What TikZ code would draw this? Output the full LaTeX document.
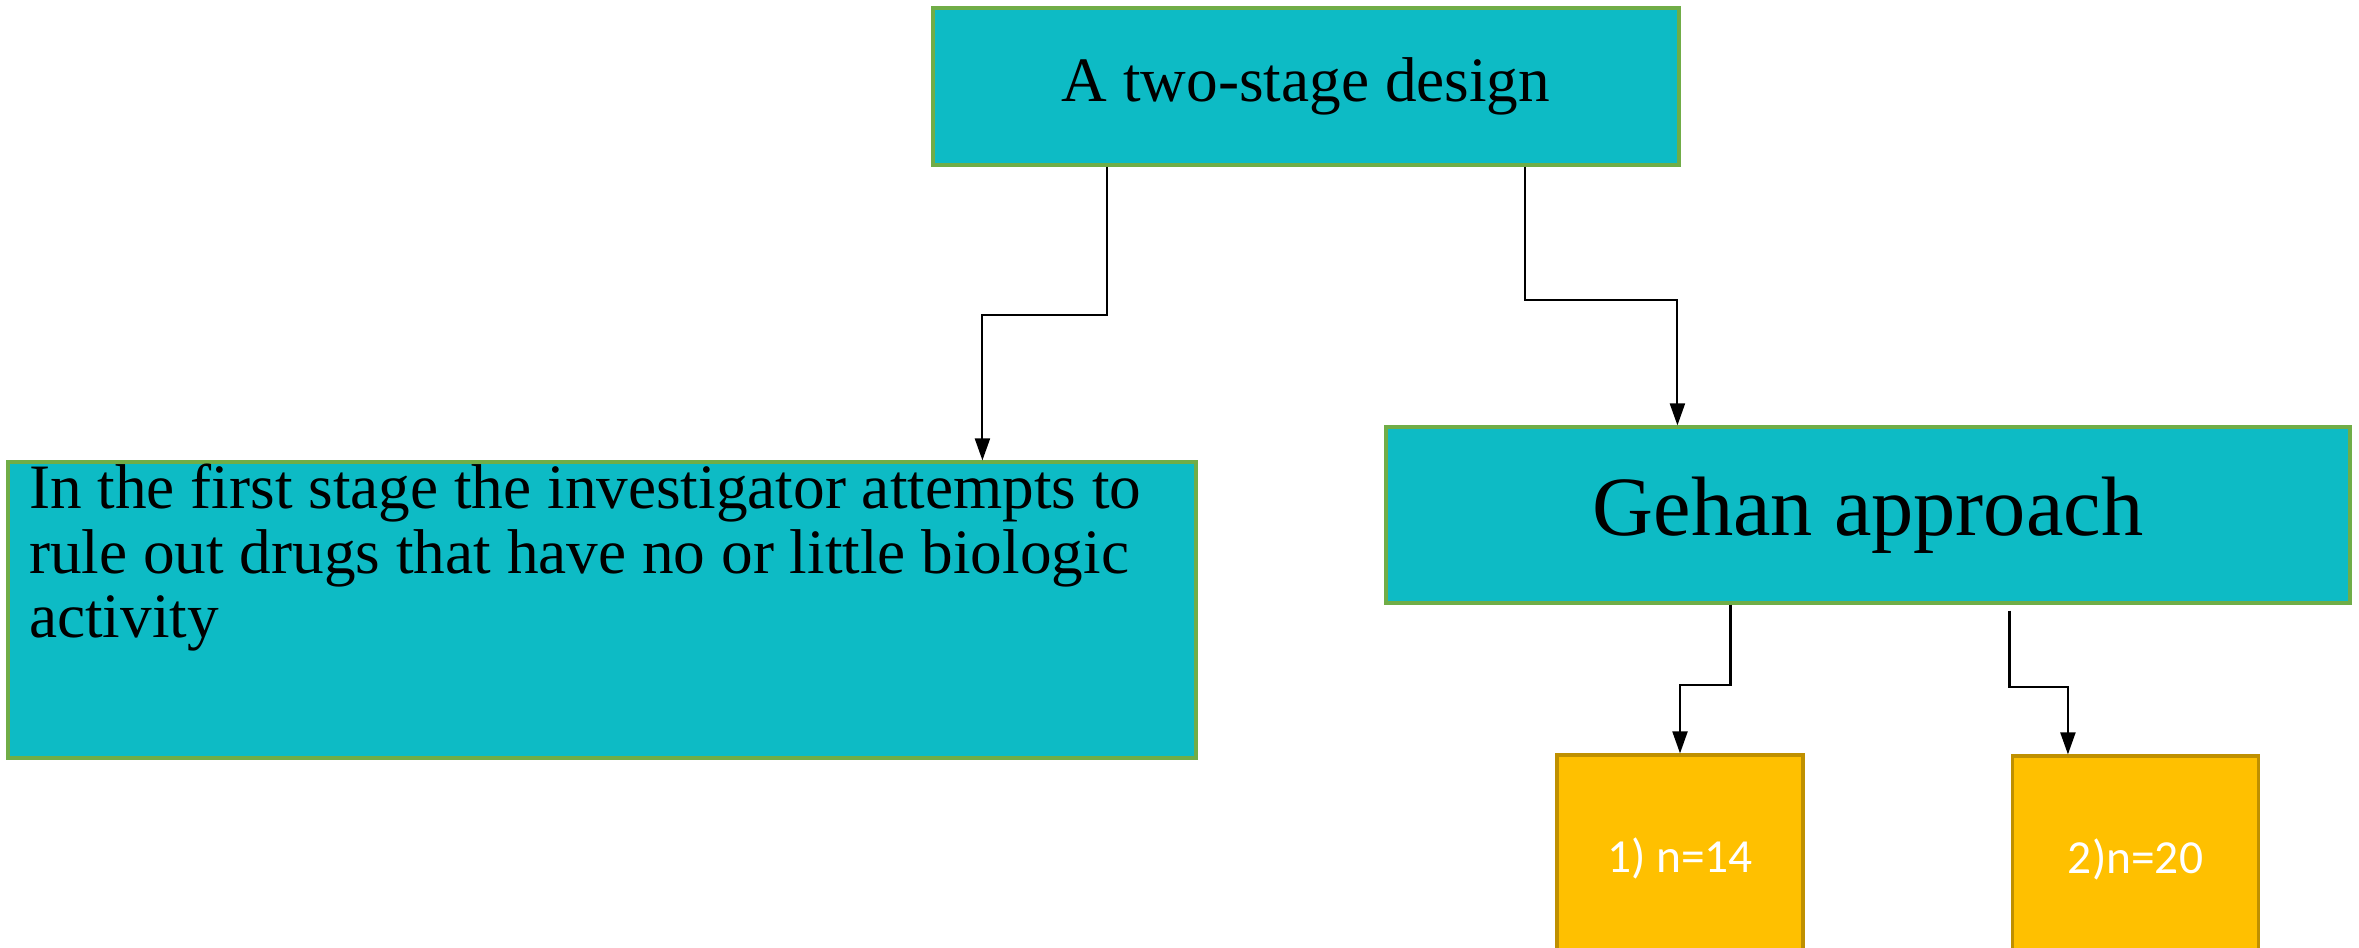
\documentclass[tikz,border=0pt]{standalone}
\usepackage{fontspec}
\setmainfont{Liberation Serif}
\newfontfamily\calibri{Carlito}
\usetikzlibrary{arrows.meta}
\definecolor{tealfill}{HTML}{0DBBC5}
\definecolor{boxline}{HTML}{70AD47}
\definecolor{goldfill}{HTML}{FFC000}
\definecolor{goldline}{HTML}{BF9000}

\begin{document}
\begin{tikzpicture}[>={Triangle[length=2.2mm,width=1.5mm]},
  tealbox/.style={draw=boxline,fill=tealfill,line width=0.9pt,inner sep=0pt},
  goldbox/.style={draw=goldline,fill=goldfill,line width=0.9pt,inner sep=0pt,
    minimum width=2.46cm,minimum height=2.06cm,text=white,
    font=\calibri\fontsize{13.5}{16}\selectfont},
  link/.style={->,line width=0.6pt}]
\useasboundingbox (0,0) rectangle (23.59,-9.48);
% boxes
\node[tealbox,minimum width=7.46cm,minimum height=1.57cm,
  font=\fontsize{18}{20}\selectfont] (design) at (13.06,-0.865) {A two-stage design};
\node[tealbox,minimum width=11.88cm,minimum height=2.96cm] (stage) at (6.02,-6.10) {};
\node[anchor=north west,align=left,inner sep=0pt,font=\fontsize{18}{18.4}\selectfont]
  (stagetext) at ([xshift=0.22cm,yshift=-0.03cm]stage.north west)
  {In the first stage the investigator attempts to\\
   rule out drugs that have no or little biologic\\
   activity};
\node[tealbox,minimum width=9.64cm,minimum height=1.76cm,
  font=\fontsize{24}{28}\selectfont] (gehan) at (18.68,-5.15) {Gehan approach};
\node[goldbox] (first) at (16.80,-8.58) {1) n=14};
\node[goldbox] (second) at (21.355,-8.59) {2)n=20};
% elbow arrows
\draw[link] ([xshift=1.76cm]design.south west) -- ++(0,-1.48)
  -| ([xshift=9.76cm]stage.north west);
\draw[link] ([xshift=5.94cm]design.south west) -- ++(0,-1.33)
  -| ([xshift=2.93cm]gehan.north west);
\draw[link] ([xshift=3.46cm]gehan.south west) -- ++(0,-0.80) -| (first.north);
\draw[link] ([xshift=6.25cm,yshift=-0.06cm]gehan.south west) -- ++(0,-0.76)
  -| ([xshift=0.57cm]second.north west);
\end{tikzpicture}
\end{document}
